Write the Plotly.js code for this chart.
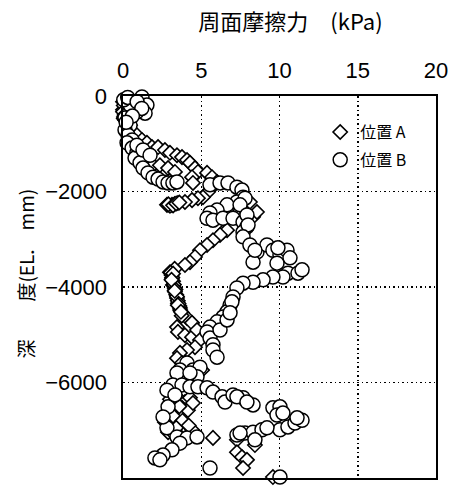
<!DOCTYPE html>
<html>
<head>
<meta charset="utf-8">
<script src="https://cdn.plot.ly/plotly-3.0.1.min.js"></script>
<style>html,body{margin:0;padding:0;background:#fff;}#chart{width:457px;height:489px;}</style>
</head>
<body>
<div id="chart"></div>
<script>
// Series A (diamonds): friction (kPa) and depth (EL. mm)
var xA = [-0.1,-0.15,-0.05,-0.1,0,-0.05,0.06,0.13,-0.05,0.0,0.05,0.0,0.1,0.05,
  0.45,0.64,0.89,1.21,1.53,1.85,2.24,2.68,3.0,3.45,3.77,4.09,4.28,4.6,4.79,4.41,4.47,5.37,5.69,6.01,5.69,5.43,5.11,4.79,4.41,3.96,3.51,3.13,2.81,1.21,1.92,2.36,2.88,3.32,3.0,3.3,
  2.9,3.2,3.4,3.6,
  6.84,7.35,7.92,8.31,8.56,8.11,6.39,6.65,6.2,5.75,5.37,4.92,4.6,4.28,3.96,3.0,3.13,3.19,3.32,3.45,3.51,3.64,3.77,4.09,4.41,3.45,3.51,3.96,4.41,4.73,4.92,4.6,4.09,3.64,3.45,3.77,4.15,4.6,5.05,5.56,
  3.1,3.2,3.3,3.4,3.5,3.6,3.3,3.05,3.15,3.25,3.35,3.45,3.55,3.65,3.75,3.2,3.1,3.3,3.5,3.7,
  3.19,3.51,3.96,4.28,3.77,3.32,2.88,2.68,3.13,3.51,3.96,4.41,2.88,3.32,3.77,4.15,4.47,3.45,3.0,
  3.0,3.6,3.2,3.8,3.4,4.2,
  5.75,7.28,8.43,7.28,7.6,7.92,7.67,9.58];
var yA = [-20,-80,-150,-230,-290,-360,-440,-500,-50,-120,-200,-330,-400,-470,
  -610,-750,-820,-920,-980,-1070,-1070,-1130,-1190,-1240,-1280,-1340,-1400,-1510,-1590,-1700,-1820,-1610,-1700,-1800,-1910,-2010,-2120,-2140,-2180,-2220,-2240,-2280,-2280,-1400,-1450,-1450,-1510,-1590,-2300,-2260,
  -2270,-2290,-2250,-2230,
  -2430,-2450,-2450,-2530,-2430,-2220,-2850,-2810,-2910,-3020,-3120,-3230,-3370,-3480,-3540,-3690,-3810,-3960,-4100,-4230,-4340,-4440,-4540,-4650,-4750,-4840,-4940,-5010,-5050,-4900,-5110,-5260,-5320,-5380,-5490,-5590,-5700,-5800,-5740,-4960,
  -3750,-3880,-4020,-4160,-4290,-4400,-3620,-3700,-3800,-3950,-4050,-4200,-4350,-4480,-4600,-3720,-3850,-4080,-4380,-4520,
  -6260,-6320,-6410,-6320,-6530,-6620,-6720,-6830,-6850,-6890,-6930,-6990,-7040,-7100,-6660,-6580,-6430,-6470,-6430,
  -6350,-6500,-6700,-6800,-6950,-6900,
  -7160,-7200,-7310,-7460,-7560,-7620,-7790,-7980];

// Series B (circles)
var xB = [0.13,0.64,1.21,1.53,1.41,0.89,0.45,0.05,-0.15,0.13,0.45,0.13,0.32,0.58,0.26,0.58,0.89,0.77,1.09,1.28,1.6,1.92,2.24,2.56,2.88,3.19,3.45,0.89,1.28,1.73,0.3,0.9,1.2,0.6,0.2,
  5.56,6.2,6.71,7.28,7.6,7.67,7.28,6.65,6.01,5.56,5.37,5.75,6.39,7.03,7.67,7.92,7.67,7.8,7.48,7.92,7.99,
  7.67,8.11,8.56,8.31,9.2,9.58,10.03,10.48,10.67,9.84,8.43,9.9,10.54,11.18,11.44,10.22,9.58,8.95,8.31,7.67,7.28,7.03,6.84,6.65,6.39,6.01,5.56,5.37,5.56,5.75,5.75,6.01,6.2,6.65,6.96,6.84,
  4.09,3.64,4.47,4.92,4.73,4.09,3.45,4.28,3.19,3.77,4.28,4.79,5.37,5.75,6.33,6.52,7.03,7.67,8.31,7.28,7.92,9.58,10.03,9.84,10.22,10.03,10.54,10.99,11.44,11.12,
  7.28,7.8,8.31,8.88,9.2,8.43,7.48,2.81,3.45,4.09,4.73,3.64,3.13,2.56,2.04,2.36,5.56,10.03,2.81,2.88,2.56,3.32];
var yB = [60,60,-20,-190,-360,-330,-190,-80,-290,-460,-610,-710,-820,-920,-980,-1090,-1190,-1300,-1400,-1510,-1610,-1700,-1740,-1800,-1820,-1820,-1800,-1030,-1130,-1240,-30,-120,-260,-420,-550,
  -1860,-1820,-1820,-1910,-1970,-2120,-2220,-2280,-2390,-2450,-2560,-2600,-2560,-2560,-2640,-2740,-2850,-2140,-2280,-2490,-2700,
  -2950,-3120,-3270,-3480,-3120,-3230,-3330,-3230,-3390,-3500,-3230,-3180,-3710,-3710,-3640,-3790,-3790,-3850,-3900,-3920,-4020,-4210,-4380,-4520,-4630,-4730,-4840,-4940,-5070,-5210,-5320,-5470,-4900,-4690,-4310,-4540,
  -5590,-5740,-5740,-5680,-5880,-5880,-5800,-5800,-6050,-6050,-6090,-6090,-6110,-6200,-6300,-6410,-6260,-6320,-6470,-6300,-6410,-6530,-6510,-6680,-6640,-6990,-6930,-6850,-6790,-6740,
  -7100,-7060,-7040,-6990,-6950,-7200,-7060,-6950,-7140,-7160,-7140,-7270,-7410,-7520,-7580,-7620,-7790,-7980,-6160,-6510,-6720,-6260];

var nameA = '位置 A';
var nameB = '位置 B';
var xTicks = [0, 5, 10, 15, 20];
var yTicks = [0, -2000, -4000, -6000, -8000];

var numFont = 'Liberation Sans Narrow, Arial Narrow, Liberation Sans, sans-serif';
var cjkFont = 'Noto Sans CJK JP, sans-serif';

var traces = [
  {x: xA, y: yA, name: nameA, type: 'scatter', mode: 'markers', cliponaxis: false, legendgroup: 'a',
   marker: {symbol: 'diamond', size: 11, color: '#ffffff', line: {color: '#000000', width: 1.6}}},
  {x: xB, y: yB, name: nameB, type: 'scatter', mode: 'markers', cliponaxis: false, legendgroup: 'b',
   marker: {symbol: 'circle', size: 14, color: '#ffffff', line: {color: '#000000', width: 1.5}}}
];

var layout = {
  width: 457, height: 489,
  margin: {l: 123, r: 21, t: 96, b: 11},
  paper_bgcolor: '#ffffff', plot_bgcolor: '#ffffff',
  showlegend: true,
  title: {text: '周面摩擦力　(kPa)', font: {family: cjkFont, size: 22, color: '#000'},
          xref: 'paper', x: 0.535, xanchor: 'center', yref: 'container', y: 0.955, yanchor: 'middle'},
  xaxis: {side: 'top', range: [0, 20], tickvals: xTicks, ticktext: xTicks.map(String),
          showline: true, mirror: true, linecolor: '#000', linewidth: 1.6,
          showgrid: true, gridcolor: '#000', griddash: '1.5px,3px', gridwidth: 1.5,
          zeroline: false, ticks: '', ticklabelstandoff: 8,
          tickfont: {family: numFont, size: 22, color: '#000'}, fixedrange: true},
  yaxis: {range: [-8000, 0], tickvals: yTicks,
          showline: true, mirror: true, linecolor: '#000', linewidth: 1.6,
          showgrid: true, gridcolor: '#000', griddash: '1.5px,3px', gridwidth: 1.5,
          zeroline: false, ticks: '', ticklabelstandoff: 10,
          tickfont: {family: numFont, size: 22, color: '#000'}, fixedrange: true},
  legend: {x: 0.63, xanchor: 'left', y: 0.95, yanchor: 'top', bgcolor: 'rgba(255,255,255,0)',
           borderwidth: 0, font: {family: cjkFont, size: 16, color: '#000'},
           traceorder: 'grouped', tracegroupgap: 4, itemwidth: 30},
  annotations: [
    {text: '深　　度(EL.　mm)', xref: 'paper', yref: 'paper', x: -0.31, y: 0.535,
     xanchor: 'center', yanchor: 'middle', textangle: -90, showarrow: false,
     font: {family: cjkFont, size: 19, color: '#000'}}
  ]
};

Plotly.newPlot('chart', traces, layout, {displayModeBar: false, staticPlot: true});
</script>
</body>
</html>
